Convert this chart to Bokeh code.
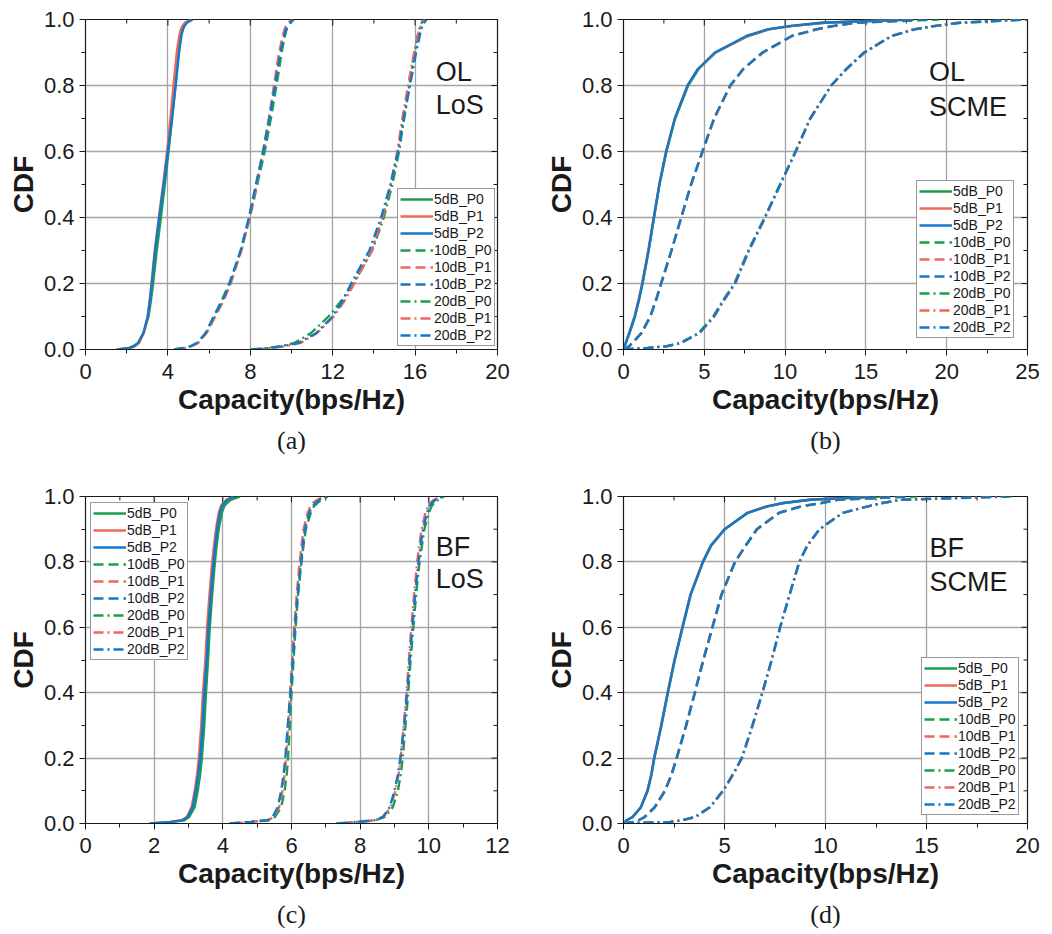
import math
from bokeh.plotting import figure
from bokeh.layouts import column, row
from bokeh.models import (Range1d, FixedTicker, Label, Title, Legend,
                          LegendItem, PrintfTickFormatter)
from bokeh.embed import file_html
from bokeh.resources import INLINE

# ---------------- data ----------------
CDF = [0, 0.005, 0.01, 0.02, 0.05, 0.1, 0.15, 0.2, 0.3, 0.4, 0.5, 0.6, 0.7,
       0.8, 0.85, 0.9, 0.95, 0.97, 0.98, 0.99, 1.0]
SERIES = ["5dB_P0", "5dB_P1", "5dB_P2", "10dB_P0", "10dB_P1", "10dB_P2",
          "20dB_P0", "20dB_P1", "20dB_P2"]

# (a) OL LoS
a_5_P0 = [1.5, 2.1, 2.32, 2.55, 2.82, 3.06, 3.18, 3.28, 3.46, 3.66, 3.85, 4.03, 4.2, 4.36, 4.44, 4.52, 4.63, 4.71, 4.78, 4.9, 5.15]
a_5_P1 = [1.7, 2.2, 2.4, 2.6, 2.83, 3.02, 3.12, 3.2, 3.36, 3.56, 3.77, 3.96, 4.12, 4.27, 4.35, 4.43, 4.55, 4.63, 4.7, 4.82, 5.1]
a_5_P2 = [1.6, 2.15, 2.35, 2.56, 2.81, 3.02, 3.13, 3.22, 3.38, 3.58, 3.79, 4.0, 4.2, 4.38, 4.46, 4.54, 4.65, 4.73, 4.8, 4.92, 5.2]
a_10_P0 = [4.3, 4.8, 5.12, 5.44, 5.85, 6.22, 6.62, 6.98, 7.55, 7.98, 8.34, 8.7, 9.0, 9.27, 9.4, 9.52, 9.68, 9.76, 9.83, 9.94, 10.1]
a_10_P1 = [4.4, 4.85, 5.15, 5.47, 5.88, 6.3, 6.72, 7.05, 7.57, 7.97, 8.3, 8.62, 8.9, 9.15, 9.27, 9.4, 9.57, 9.66, 9.73, 9.85, 10.0]
a_10_P2 = [4.3, 4.77, 5.1, 5.42, 5.83, 6.24, 6.66, 7.0, 7.53, 7.93, 8.27, 8.62, 8.92, 9.2, 9.33, 9.46, 9.64, 9.73, 9.8, 9.92, 10.1]
a_20_P0 = [8.0, 8.9, 9.45, 10.15, 10.95, 11.8, 12.45, 13.0, 13.92, 14.48, 14.9, 15.22, 15.47, 15.72, 15.84, 15.98, 16.12, 16.2, 16.26, 16.32, 16.4]
a_20_P1 = [8.2, 9.1, 9.7, 10.45, 11.25, 12.05, 12.6, 13.05, 13.9, 14.42, 14.82, 15.14, 15.38, 15.66, 15.8, 15.95, 16.13, 16.22, 16.28, 16.36, 16.48]
a_20_P2 = [8.1, 9.0, 9.6, 10.35, 11.2, 12.0, 12.5, 12.9, 13.78, 14.35, 14.8, 15.17, 15.45, 15.75, 15.9, 16.05, 16.22, 16.3, 16.36, 16.44, 16.55]

# (b) OL SCME
b_5_P0 = [0, 0.04, 0.07, 0.15, 0.37, 0.71, 0.96, 1.18, 1.56, 1.89, 2.23, 2.66, 3.2, 4.0, 4.65, 5.72, 7.7, 9.0, 10.4, 12.5, 18.0]
b_5_P1 = [0, 0.04, 0.07, 0.14, 0.35, 0.68, 0.93, 1.15, 1.53, 1.87, 2.21, 2.63, 3.17, 3.96, 4.62, 5.7, 7.7, 9.0, 10.3, 12.4, 17.0]
b_5_P2 = [0, 0.04, 0.07, 0.14, 0.36, 0.7, 0.95, 1.17, 1.55, 1.88, 2.22, 2.64, 3.18, 3.97, 4.6, 5.65, 7.6, 8.9, 10.2, 12.2, 17.5]
b_10_P0 = [0, 0.2, 0.34, 0.54, 1.1, 1.65, 2.0, 2.32, 2.96, 3.57, 4.18, 4.89, 5.6, 6.62, 7.42, 8.62, 10.42, 11.95, 12.95, 14.35, 19.5]
b_10_P1 = [0, 0.21, 0.36, 0.56, 1.13, 1.67, 2.03, 2.34, 2.98, 3.58, 4.19, 4.9, 5.62, 6.63, 7.43, 8.64, 10.45, 12.0, 13.0, 14.4, 18.5]
b_10_P2 = [0, 0.2, 0.35, 0.55, 1.12, 1.66, 2.02, 2.33, 2.97, 3.57, 4.18, 4.88, 5.6, 6.6, 7.4, 8.6, 10.4, 11.9, 12.9, 14.3, 19.0]
b_20_P0 = [0, 1.45, 2.65, 3.5, 4.65, 5.55, 6.18, 6.86, 7.72, 8.73, 9.68, 10.64, 11.55, 12.86, 13.8, 14.92, 16.6, 18.0, 19.3, 20.9, 25.0]
b_20_P1 = [0, 1.55, 2.75, 3.6, 4.72, 5.62, 6.24, 6.92, 7.78, 8.77, 9.72, 10.67, 11.57, 12.86, 13.78, 14.88, 16.55, 17.9, 19.1, 20.7, 24.5]
b_20_P2 = [0, 1.5, 2.7, 3.55, 4.7, 5.6, 6.2, 6.9, 7.75, 8.75, 9.7, 10.65, 11.55, 12.85, 13.8, 14.9, 16.6, 18.0, 19.2, 20.8, 25.0]

# (c) BF LoS
c_5_P0 = [1.85, 2.55, 2.88, 3.02, 3.18, 3.27, 3.34, 3.39, 3.46, 3.51, 3.57, 3.62, 3.69, 3.77, 3.82, 3.88, 3.97, 4.04, 4.12, 4.23, 4.5]
c_5_P1 = [2.0, 2.45, 2.8, 2.95, 3.09, 3.18, 3.25, 3.3, 3.37, 3.42, 3.49, 3.54, 3.61, 3.69, 3.74, 3.8, 3.88, 3.94, 4.0, 4.1, 4.3]
c_5_P2 = [1.9, 2.49, 2.83, 2.97, 3.12, 3.21, 3.28, 3.34, 3.41, 3.46, 3.53, 3.58, 3.65, 3.73, 3.78, 3.83, 3.91, 3.97, 4.04, 4.13, 4.35]
c_10_P0 = [4.2, 4.8, 5.35, 5.52, 5.7, 5.8, 5.86, 5.9, 5.95, 6.0, 6.06, 6.12, 6.19, 6.29, 6.35, 6.42, 6.56, 6.65, 6.75, 6.88, 7.05]
c_10_P1 = [4.3, 4.85, 5.32, 5.48, 5.64, 5.74, 5.8, 5.84, 5.9, 5.96, 6.02, 6.08, 6.15, 6.24, 6.29, 6.35, 6.47, 6.55, 6.62, 6.75, 6.95]
c_10_P2 = [4.2, 4.82, 5.3, 5.45, 5.6, 5.7, 5.77, 5.82, 5.89, 5.97, 6.04, 6.1, 6.18, 6.28, 6.33, 6.39, 6.52, 6.6, 6.7, 6.82, 7.0]
c_20_P0 = [7.3, 7.9, 8.45, 8.72, 8.95, 9.1, 9.18, 9.24, 9.32, 9.4, 9.47, 9.55, 9.63, 9.73, 9.8, 9.87, 10.0, 10.08, 10.15, 10.27, 10.45]
c_20_P1 = [7.5, 8.0, 8.45, 8.68, 8.88, 9.03, 9.12, 9.18, 9.27, 9.35, 9.42, 9.49, 9.57, 9.66, 9.72, 9.79, 9.9, 9.98, 10.04, 10.15, 10.35]
c_20_P2 = [7.4, 7.93, 8.42, 8.66, 8.86, 9.0, 9.1, 9.17, 9.28, 9.37, 9.44, 9.52, 9.6, 9.7, 9.76, 9.83, 9.95, 10.02, 10.08, 10.2, 10.4]

# (d) BF SCME
d_5_P0 = [0, 0.09, 0.16, 0.46, 0.87, 1.2, 1.39, 1.53, 1.88, 2.2, 2.54, 2.93, 3.33, 3.94, 4.35, 5.02, 6.17, 7.15, 7.95, 9.3, 12.8]
d_5_P1 = [0, 0.08, 0.15, 0.44, 0.85, 1.18, 1.37, 1.51, 1.86, 2.18, 2.52, 2.91, 3.31, 3.92, 4.32, 5.0, 6.12, 7.1, 7.9, 9.2, 12.2]
d_5_P2 = [0, 0.08, 0.15, 0.45, 0.86, 1.19, 1.38, 1.52, 1.87, 2.19, 2.53, 2.92, 3.32, 3.93, 4.33, 5.0, 6.14, 7.1, 7.9, 9.2, 12.5]
d_10_P0 = [0, 0.5, 0.76, 1.06, 1.56, 2.06, 2.39, 2.64, 3.11, 3.54, 3.96, 4.41, 4.86, 5.53, 6.06, 6.62, 7.72, 8.82, 9.82, 10.65, 14.5]
d_10_P1 = [0, 0.48, 0.74, 1.04, 1.54, 2.04, 2.37, 2.62, 3.09, 3.52, 3.94, 4.39, 4.84, 5.51, 6.04, 6.6, 7.68, 8.78, 9.78, 10.55, 13.8]
d_10_P2 = [0, 0.5, 0.75, 1.05, 1.55, 2.05, 2.38, 2.63, 3.1, 3.53, 3.95, 4.4, 4.85, 5.52, 6.05, 6.6, 7.7, 8.8, 9.8, 10.6, 14.0]
d_20_P0 = [0, 2.3, 2.9, 3.55, 4.28, 4.93, 5.42, 5.86, 6.39, 6.88, 7.34, 7.76, 8.23, 8.71, 9.11, 9.71, 10.87, 12.12, 12.85, 13.8, 19.2]
d_20_P1 = [0, 2.35, 2.95, 3.58, 4.3, 4.95, 5.44, 5.87, 6.4, 6.88, 7.34, 7.75, 8.22, 8.7, 9.1, 9.7, 10.85, 12.1, 12.8, 13.7, 18.8]
d_20_P2 = [0, 2.3, 2.9, 3.54, 4.27, 4.92, 5.41, 5.85, 6.38, 6.87, 7.33, 7.75, 8.22, 8.7, 9.1, 9.7, 10.85, 12.1, 12.8, 13.7, 19.0]

# axis ticks
Y_TICKS = [0, 0.2, 0.4, 0.6, 0.8, 1.0]
Y_MINOR = [0.1, 0.3, 0.5, 0.7, 0.9]
A_XTICKS = [0, 4, 8, 12, 16, 20]
A_XMINOR = [2, 6, 10, 14, 18]
B_XTICKS = [0, 5, 10, 15, 20, 25]
B_XMINOR = [2.5, 7.5, 12.5, 17.5, 22.5]
C_XTICKS = [0, 2, 4, 6, 8, 10, 12]
C_XMINOR = [1, 3, 5, 7, 9, 11]
D_XTICKS = [0, 5, 10, 15, 20]
D_XMINOR = [2.5, 7.5, 12.5, 17.5]

# ---------------- style ----------------
COLORS = ["#1c9e4a", "#ee675c", "#1478c8"]
DASHES = ["solid", "10 5", "10 4 2 4"]
SANS = "Liberation Sans"
INK = "#1a1a1a"


def make_panel(series, xmax, xticks, xminor, caption, txt1, txt2, txt_pos,
               legend_loc, width, height, borders):
    bl, br, bt, bb = borders
    p = figure(width=width, height=height, x_range=Range1d(0, xmax),
               y_range=Range1d(0, 1), output_backend="svg",
               toolbar_location=None, min_border_left=bl, min_border_right=br,
               min_border_top=bt, min_border_bottom=bb)
    p.background_fill_color = "white"
    p.border_fill_color = "white"
    p.outline_line_color = INK
    p.outline_line_width = 1.2

    xt = FixedTicker(ticks=xticks, minor_ticks=xminor)
    yt = FixedTicker(ticks=Y_TICKS, minor_ticks=Y_MINOR)
    p.xaxis.ticker = xt
    p.yaxis.ticker = yt
    p.xgrid.ticker = xt
    p.ygrid.ticker = yt
    for g in (p.xgrid, p.ygrid):
        g.grid_line_color = "#a4a4a4"
        g.grid_line_width = 1.3
    p.xaxis.formatter = PrintfTickFormatter(format="%d")
    p.yaxis.formatter = PrintfTickFormatter(format="%.1f")
    for ax in (p.xaxis[0], p.yaxis[0]):
        ax.major_tick_out = 6
        ax.major_tick_in = 0
        ax.minor_tick_out = 4
        ax.minor_tick_in = 0
        ax.axis_line_color = INK
        ax.major_tick_line_color = INK
        ax.minor_tick_line_color = INK
        ax.major_label_text_font = SANS
        ax.major_label_text_font_size = "22px"
        ax.major_label_text_color = INK
        ax.axis_label_text_font = SANS
        ax.axis_label_text_font_size = "28px"
        ax.axis_label_text_font_style = "bold"
        ax.axis_label_text_color = INK
    p.xaxis.axis_label = "Capacity(bps/Hz)"
    p.yaxis.axis_label = "CDF"
    p.xaxis.major_label_standoff = 8
    p.xaxis.axis_label_standoff = 2
    p.yaxis.major_label_standoff = 5
    p.yaxis.axis_label_standoff = 2

    # mirrored inward ticks on the top and right edges (clipped to the frame)
    p.scatter(xticks, [1] * len(xticks), marker="dash", size=12, angle=math.pi / 2,
              line_color=INK, line_width=1)
    p.scatter(xminor, [1] * len(xminor), marker="dash", size=8, angle=math.pi / 2,
              line_color=INK, line_width=1)
    p.scatter([xmax] * len(Y_TICKS), Y_TICKS, marker="dash", size=12,
              line_color=INK, line_width=1)
    p.scatter([xmax] * len(Y_MINOR), Y_MINOR, marker="dash", size=8,
              line_color=INK, line_width=1)

    items = []
    for i, (name, xs) in enumerate(zip(SERIES, series)):
        r = p.line(xs, CDF, line_color=COLORS[i % 3], line_width=2.4,
                   line_dash=DASHES[i // 3])
        items.append(LegendItem(label=name, renderers=[r]))

    legend = Legend(items=items, location=legend_loc)
    legend.label_text_font = SANS
    legend.label_text_font_size = "14px"
    legend.label_text_color = INK
    legend.glyph_width = 33
    legend.glyph_height = 16
    legend.label_height = 16
    legend.label_standoff = 1
    legend.spacing = 1
    legend.padding = 2
    legend.margin = 0
    legend.border_line_color = "#333333"
    legend.border_line_width = 1
    legend.background_fill_alpha = 1
    p.add_layout(legend, "center")

    tx, ty1, ty2 = txt_pos
    for t, ty in ((txt1, ty1), (txt2, ty2)):
        p.add_layout(Label(x=tx, y=ty, text=t, text_font=SANS,
                           text_font_size="27px", text_color=INK,
                           text_baseline="middle", text_align="left"))

    p.add_layout(Title(text=caption, align="center", text_font="Liberation Serif",
                       text_font_size="26px", text_font_style="normal",
                       text_color=INK, standoff=12), "below")
    return p


pa = make_panel([a_5_P0, a_5_P1, a_5_P2, a_10_P0, a_10_P1, a_10_P2, a_20_P0, a_20_P1, a_20_P2],
                20, A_XTICKS, A_XMINOR, "(a)", "OL", "LoS", (17.0, 0.84, 0.74),
                (312, 3), 520, 460, (85, 23, 19, 109))
pb = make_panel([b_5_P0, b_5_P1, b_5_P2, b_10_P0, b_10_P1, b_10_P2, b_20_P0, b_20_P1, b_20_P2],
                25, B_XTICKS, B_XMINOR, "(b)", "OL", "SCME", (18.9, 0.84, 0.735),
                (293, 11), 528, 460, (103, 21, 19, 109))
pc = make_panel([c_5_P0, c_5_P1, c_5_P2, c_10_P0, c_10_P1, c_10_P2, c_20_P0, c_20_P1, c_20_P2],
                12, C_XTICKS, C_XMINOR, "(c)", "BF", "LoS", (10.2, 0.846, 0.747),
                (5, 163), 520, 474, (85, 23, 36, 106))
pd = make_panel([d_5_P0, d_5_P1, d_5_P2, d_10_P0, d_10_P1, d_10_P2, d_20_P0, d_20_P1, d_20_P2],
                20, D_XTICKS, D_XMINOR, "(d)", "BF", "SCME", (15.15, 0.843, 0.738),
                (298, 8), 528, 474, (103, 21, 36, 106))

layout = column(row(pa, pb), row(pc, pd))
open("out.html", "w").write(file_html(layout, INLINE))
